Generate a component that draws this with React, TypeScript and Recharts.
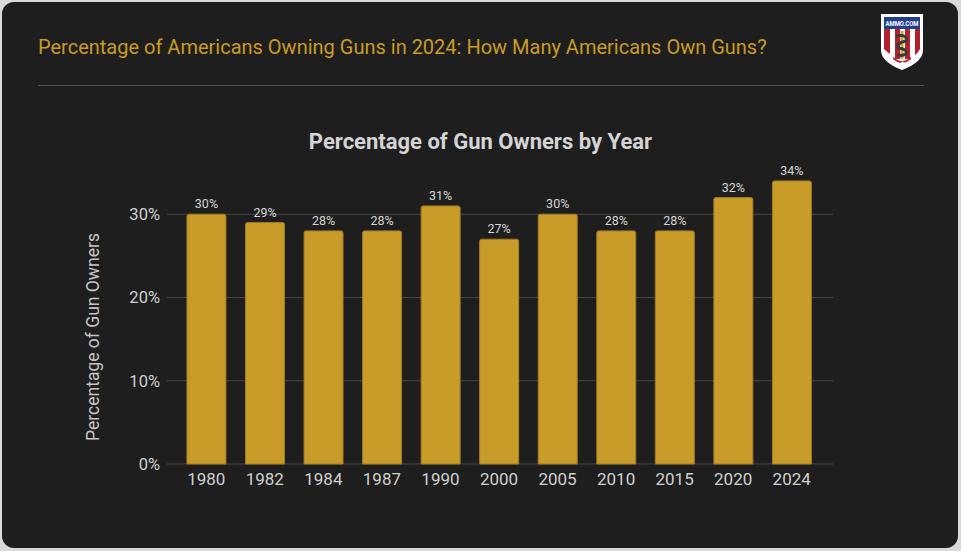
import { BarChart, Bar, XAxis, YAxis, CartesianGrid, LabelList } from "recharts";

const years = ["1980", "1982", "1984", "1987", "1990", "2000", "2005", "2010", "2015", "2020", "2024"];
const ownerPct = [30, 29, 28, 28, 31, 27, 30, 28, 28, 32, 34];
const yTicks = [0, 10, 20, 30];

const GOLD = "#c99b28";
const FONT = "Roboto, 'Noto Sans', sans-serif";

const chartData = years.map((y, i) => ({ year: y, pct: ownerPct[i] }));

function Logo() {
  return (
    <svg width={46} height={60} viewBox="0 0 46 60" style={{ position: "absolute", left: 879, top: 12 }}>
      <path d="M2 2 H44 V38 Q44 50 23 58 Q2 50 2 38 Z" fill="#fff" />
      <rect x={5} y={5} width={36} height={12} fill="#1f3f8a" />
      <text
        x={23}
        y={13.8}
        textAnchor="middle"
        fontSize={7}
        fontWeight={700}
        fill="#fff"
        fontFamily={FONT}
        textLength={33}
        lengthAdjust="spacingAndGlyphs"
      >
        AMMO.COM
      </text>
      <path d="M5 17 H11 V42 Q8 40 5 37 Z" fill="#b5202e" />
      <rect x={16} y={17} width={5} height={30} fill="#b5202e" />
      <rect x={26} y={17} width={5} height={30} fill="#b5202e" />
      <path d="M36 17 H41 V37 Q39 41 36 43 Z" fill="#b5202e" />
      <rect x={21.5} y={19} width={3} height={28} fill="#d4a52e" />
      <path d="M17 24 Q29 22 27 29 Q17 31 19 36 Q29 37 27 42 Q20 45 19 42" stroke="#3a3a3a" strokeWidth={3} fill="none" />
      <path d="M14 45 Q23 53 32 45 L32 47 Q23 55 14 47 Z" fill="#b5202e" />
      <text x={23} y={53} textAnchor="middle" fontSize={6} fill="#fff">★</text>
    </svg>
  );
}

export default function App() {
  return (
    <div style={{ position: "fixed", left: 0, top: 0, width: 961, height: 551, background: "#d9d9d9", fontFamily: FONT }}>
      <div
        style={{
          position: "absolute",
          left: 2,
          top: 2,
          width: 956,
          height: 546,
          background: "#1e1e1e",
          borderRadius: 12,
        }}
      />
      <div style={{ position: "absolute", left: 38, top: 35, fontSize: 20, color: GOLD, whiteSpace: "nowrap" }}>
        Percentage of Americans Owning Guns in 2024: How Many Americans Own Guns?
      </div>
      <div style={{ position: "absolute", left: 38, top: 85, width: 886, height: 1, background: "#555" }} />
      <Logo />
      <div
        style={{
          position: "absolute",
          left: 0,
          top: 129,
          width: 961,
          textAlign: "center",
          fontSize: 22,
          fontWeight: 700,
          color: "#d4d4d4",
        }}
      >
        Percentage of Gun Owners by Year
      </div>
      <div
        style={{
          position: "absolute",
          left: 93,
          top: 337,
          transform: "translate(-50%, -50%) rotate(-90deg)",
          fontSize: 17.5,
          color: "#c4c4c4",
          whiteSpace: "nowrap",
        }}
      >
        Percentage of Gun Owners
      </div>
      <div style={{ position: "absolute", left: 0, top: 0 }}>
        <BarChart
          width={961}
          height={551}
          data={chartData}
          margin={{ top: 131, right: 128, bottom: 57, left: 107 }}
          barCategoryGap="17%"
        >
          <CartesianGrid vertical={false} horizontalValues={yTicks} stroke="#464646" />
          <XAxis
            dataKey="year"
            axisLine={false}
            tickLine={false}
            tickSize={0}
            tickMargin={9}
            height={30}
            padding={{ left: 10, right: 12 }}
            tick={{ fill: "#d0d0d0", fontSize: 17, fontFamily: FONT }}
            interval={0}
          />
          <YAxis
            width={60}
            domain={[0, 40]}
            ticks={yTicks}
            axisLine={false}
            tickLine={false}
            tickSize={0}
            tickMargin={7}
            tickFormatter={(v: number) => `${v}%`}
            tick={{ fill: "#d0d0d0", fontSize: 16.5, fontFamily: FONT }}
          />
          <Bar dataKey="pct" fill={GOLD} stroke="#a07c26" strokeWidth={1} radius={[2, 2, 0, 0]} isAnimationActive={false}>
            <LabelList
              dataKey="pct"
              position="top"
              offset={6}
              formatter={(v: number) => `${v}%`}
              style={{ fill: "#d6d6d6", fontSize: 12.5, fontFamily: FONT }}
            />
          </Bar>
        </BarChart>
      </div>
    </div>
  );
}
